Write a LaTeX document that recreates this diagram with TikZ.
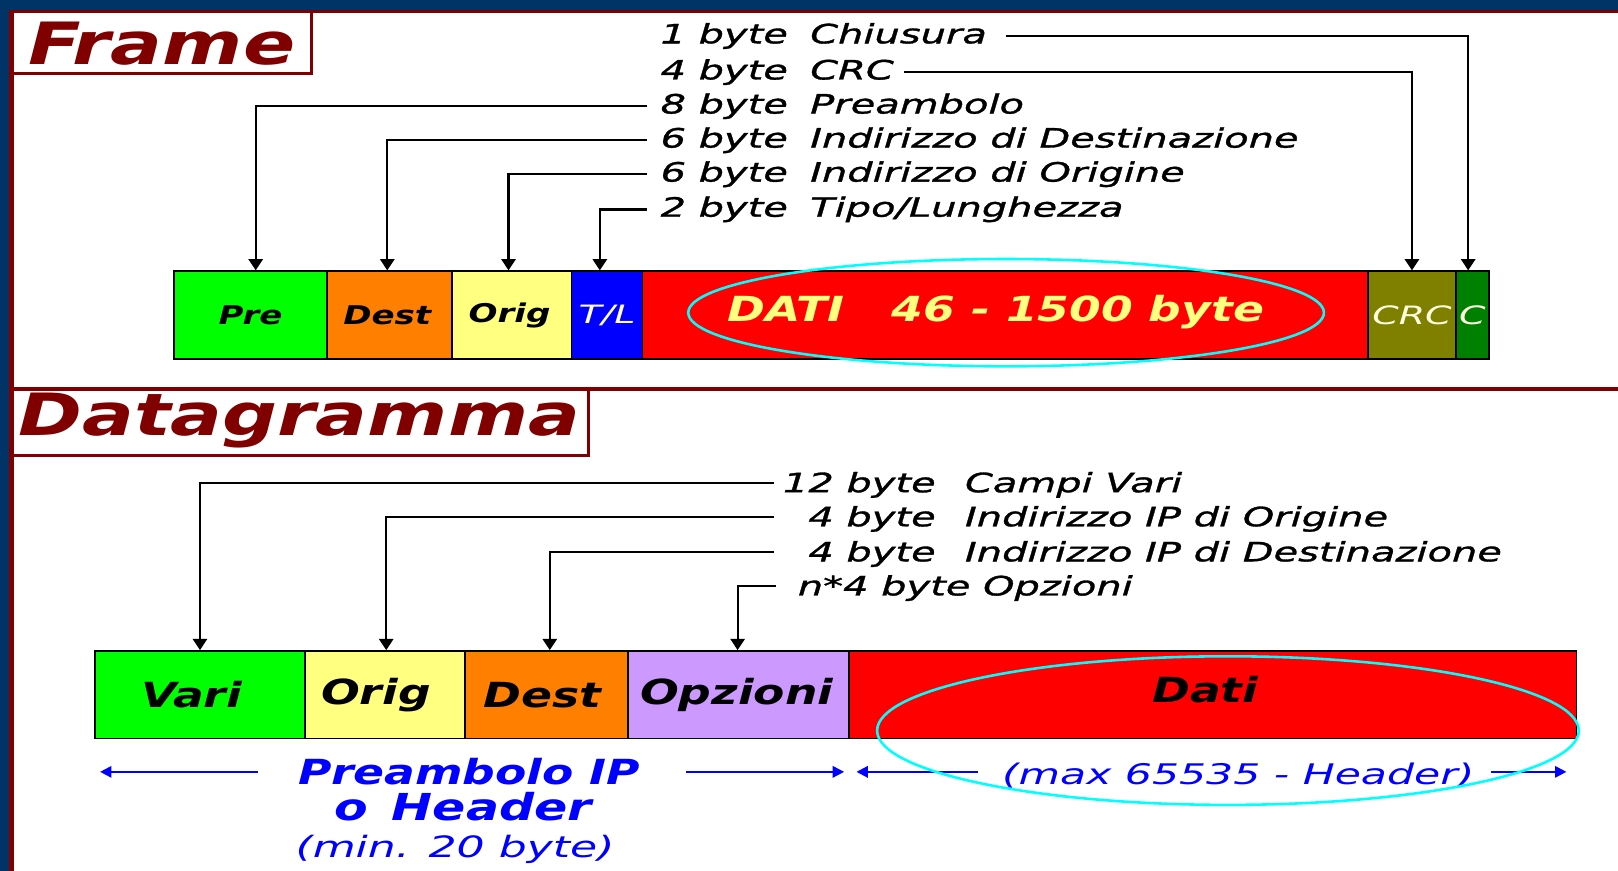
\documentclass[tikz,border=0pt]{standalone}
\usepackage{fontspec}
\setmainfont{DejaVu Sans}
\newfontfamily\wideBoldOb[FakeStretch=1.32]{DejaVu Sans Bold Oblique}
\newfontfamily\wideOb[FakeStretch=1.5,FakeBold=1.2]{DejaVu Sans Oblique}
\newfontfamily\wideObThin[FakeStretch=1.5]{DejaVu Sans Oblique}
\usetikzlibrary{arrows.meta}

\definecolor{bgblue}{HTML}{003366}
\definecolor{darkred}{HTML}{800000}
\definecolor{fGreen}{HTML}{00FF00}
\definecolor{fOrange}{HTML}{FF8000}
\definecolor{fYellow}{HTML}{FFFF80}
\definecolor{fBlue}{HTML}{0000FF}
\definecolor{fRed}{HTML}{FF0000}
\definecolor{fOlive}{HTML}{808000}
\definecolor{fDkGreen}{HTML}{008000}
\definecolor{fLilac}{HTML}{CC99FF}
\definecolor{ringcol}{HTML}{00FFFF}
\definecolor{paletext}{HTML}{FFFFE0}

\tikzset{
  heading/.style={font=\wideBoldOb\fontsize{56.5}{56.5}\selectfont, text=darkred, inner sep=0pt},
  bytelbl/.style={font=\wideOb\fontsize{25.8}{28}\selectfont, inner sep=0pt},
  field/.style={draw=black, line width=1.6pt, minimum height=85pt, inner sep=0pt,
                anchor=north west},
  smallbold/.style={font=\wideBoldOb\fontsize{25}{25}\selectfont},
  bigbold/.style={font=\wideBoldOb\fontsize{33.5}{33.5}\selectfont},
  thinlbl/.style={font=\wideObThin\fontsize{24.5}{25}\selectfont, text=paletext},
  conn/.style={line width=2pt, -{Triangle[length=11pt,width=14pt]}},
  spanarr/.style={fBlue, line width=2pt, -{Triangle[length=11pt,width=11pt]}},
  ring/.style={draw=ringcol, line width=2.5pt},
  rule/.style={darkred, line width=3pt},
}

\begin{document}
\begin{tikzpicture}[x=1pt, y=-1pt]
\useasboundingbox (0,0) rectangle (1568,844);

% page background and borders
\fill[bgblue] (0,0) rectangle (1568,844);
\fill[darkred] (9,10) rectangle (1568,13);
\fill[darkred] (9,10) rectangle (14,844);
\fill[white] (14,13) rectangle (1568,844);

% ---------------- Frame ----------------
\draw[rule] (11,71) -- (302,71) -- (302,11);
\node[heading] (tFrame) at (157,42) {Frame};

% field descriptions
\node[bytelbl, anchor=base west] (n1) at (640,42)  {1 byte};
\node[bytelbl, anchor=base west] (d1) at (785,42)  {Chiusura};
\node[bytelbl, anchor=base west] (n2) at (640,77)  {4 byte};
\node[bytelbl, anchor=base west] (d2) at (785,77)  {CRC};
\node[bytelbl, anchor=base west] (n3) at (640,110) {8 byte};
\node[bytelbl, anchor=base west] (d3) at (785,110) {Preambolo};
\node[bytelbl, anchor=base west] (n4) at (640,143) {6 byte};
\node[bytelbl, anchor=base west] (d4) at (785,143) {Indirizzo di Destinazione};
\node[bytelbl, anchor=base west] (n5) at (640,176) {6 byte};
\node[bytelbl, anchor=base west] (d5) at (785,176) {Indirizzo di Origine};
\node[bytelbl, anchor=base west] (n6) at (640,210) {2 byte};
\node[bytelbl, anchor=base west] (d6) at (785,210) {Tipo/Lunghezza};

% frame fields
\node[field, fill=fGreen,   minimum width=148pt, smallbold] (bPre)  at (168,262)  {Pre};
\node[field, fill=fOrange,  minimum width=121pt, smallbold] (bDest) at (316,262)  {Dest\hspace*{4pt}};
\node[field, fill=fYellow,  minimum width=116pt, smallbold] (bOrig) at (437,262)  {Orig\hspace*{4pt}};
\node[field, fill=fBlue,    minimum width=69pt,  thinlbl]   (bTL)   at (553,262)  {T/L};
\node[field, fill=fRed,     minimum width=703pt]            (bDati) at (622,262)  {};
\node[field, fill=fOlive,   minimum width=85pt,  thinlbl]   (bCRC)  at (1325,262) {CRC};
\node[field, fill=fDkGreen, minimum width=32pt,  thinlbl]   (bC)    at (1410,262) {C};
\node[bigbold, text=fYellow, inner sep=0pt] (tDati) at (965,302) {DATI\hspace{46pt}46 - 1500 byte};

% leader lines
\coordinate (s1) at (975,35);
\coordinate (s2) at (876,70);
\coordinate (s3) at (627,103);
\coordinate (s4) at (627,136);
\coordinate (s5) at (627,169);
\coordinate (s6) at (627,203);
\draw[conn] (s1) -| ([xshift=-4pt]bC.north);
\draw[conn] (s2) -| (bCRC.north);
\draw[conn] (s3) -| ([xshift=5pt]bPre.north);
\draw[conn] (s4) -| ([xshift=-2pt]bDest.north);
\draw[conn] (s5) -| ([xshift=-3pt]bOrig.north);
\draw[conn] (s6) -| ([xshift=-7pt]bTL.north);

\draw[ring] (975,303) ellipse [x radius=308pt, y radius=52pt];

% ---------------- Datagramma ----------------
\draw[rule] (11,377) -- (1568,377);
\draw[rule] (11,441) -- (570,441) -- (570,377);
\node[heading] (tDgram) at (290,408) {Datagramma};

\node[bytelbl, anchor=base east] (m1) at (907,477) {12 byte};
\node[bytelbl, anchor=base west] (e1) at (935,477) {Campi Vari};
\node[bytelbl, anchor=base east] (m2) at (907,510) {4 byte};
\node[bytelbl, anchor=base west] (e2) at (935,510) {Indirizzo IP di Origine};
\node[bytelbl, anchor=base east] (m3) at (907,544) {4 byte};
\node[bytelbl, anchor=base west] (e3) at (935,544) {Indirizzo IP di Destinazione};
\node[bytelbl, anchor=base west] (m4) at (773,577) {n*4 byte Opzioni};

\node[field, fill=fGreen,  minimum width=204pt, bigbold] (gVari) at (91,630)  {Vari\hspace*{16pt}};
\node[field, fill=fYellow, minimum width=155pt, bigbold] (gOrig) at (295,630) {Orig\hspace*{18pt}};
\node[field, fill=fOrange, minimum width=158pt, bigbold] (gDest) at (450,630) {Dest\hspace*{8pt}};
\node[field, fill=fLilac,  minimum width=214pt, bigbold] (gOpz)  at (608,630) {Opzioni\hspace*{4pt}};
\node[field, fill=fRed,    minimum width=705pt]          (gDati) at (822,630) {};
\node[bigbold, inner sep=0pt] (tDati2) at (1168,668) {Dati};

\coordinate (r1) at (750,468);
\coordinate (r2) at (750,501);
\coordinate (r3) at (750,535);
\coordinate (r4) at (752,568);
\draw[conn] (r1) -| (gVari.north);
\draw[conn] (r2) -| ([xshift=1pt]gOrig.north);
\draw[conn] (r3) -| ([xshift=3pt]gDest.north);
\draw[conn] (r4) -| ([xshift=-1pt]gOpz.north);

% span annotations
\node[bigbold, text=fBlue, inner sep=0pt, anchor=base] (hA) at (455,760) {Preambolo IP};
\node[font=\wideBoldOb\fontsize{36}{36}\selectfont, text=fBlue, inner sep=0pt, anchor=base] (hB) at (449,795) {o\hspace{6pt} Header};
\node[font=\wideObThin\fontsize{28.5}{28.5}\selectfont, text=fBlue, inner sep=0pt, anchor=base] (hC) at (441,831) {(min. 20 byte)};
\node[font=\wideObThin\fontsize{27.5}{28.5}\selectfont, text=fBlue, inner sep=0pt, anchor=base] (hD) at (1200,760) {(max 65535 - Header)};

\coordinate (a1) at (250,748);
\coordinate (a2) at (97,748);
\coordinate (a3) at (665,748);
\coordinate (a4) at (818,748);
\coordinate (a5) at (948,748);
\coordinate (a6) at (830,748);
\coordinate (a7) at (1445,748);
\coordinate (a8) at (1518,748);
\draw[spanarr] (a1) -- (a2);
\draw[spanarr] (a3) -- (a4);
\draw[spanarr] (a5) -- (a6);
\draw[spanarr] (a7) -- (a8);

\draw[ring] (1190,708) ellipse [x radius=340pt, y radius=72pt];
\end{tikzpicture}
\end{document}
